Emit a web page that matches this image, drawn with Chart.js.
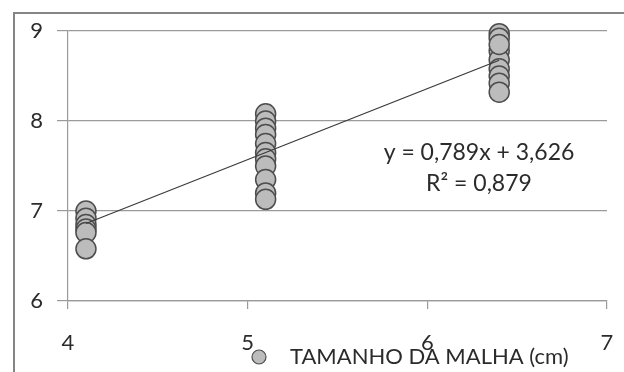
<!DOCTYPE html>
<html>
<head>
<meta charset="utf-8">
<script src="https://cdn.jsdelivr.net/npm/chart.js@4/dist/chart.umd.min.js"></script>
<style>
  html, body { margin: 0; padding: 0; background: #fff; }
  #wrap { position: relative; width: 624px; height: 372px; }
</style>
</head>
<body>
<div id="wrap"><canvas id="c" width="624" height="372"></canvas></div>
<script>
// Mesh size (cm) of each group of samples
const meshSizes = [4.1, 5.1, 6.4];
// Measured values for each mesh size
const group41 = [7.00, 6.92, 6.85, 6.80, 6.76, 6.58];
const group51 = [8.08, 8.00, 7.92, 7.85, 7.75, 7.65, 7.58, 7.50, 7.35, 7.20, 7.13];
const group64 = [8.97, 8.92, 8.78, 8.68, 8.58, 8.50, 8.42, 8.32, 8.85];
// Linear trend (y = a·x + b) and fit quality
const trendSlope = 0.789;
const trendIntercept = 3.626;
const trendR2 = 0.879;
// Axis ticks
const xTicks = [4, 5, 6, 7];
const yTicks = [6, 7, 8, 9];
const seriesLabel = 'TAMANHO DA MALHA (cm)';

const groups = [group41, group51, group64];
const scatterPoints = [];
groups.forEach((vals, i) => vals.forEach(v => scatterPoints.push({ x: meshSizes[i], y: v })));

const xFirst = meshSizes[0], xLast = meshSizes[meshSizes.length - 1];
const trendPoints = [xFirst, xLast].map(x => ({ x, y: trendSlope * x + trendIntercept }));

const fmt = (n, d) => n.toFixed(d).replace('.', ',');
const FONT = 'Lato, "Open Sans", sans-serif';
const TEXT = '#2b2b2b';

// Outer frame plus trend equation and custom legend
const extras = {
  id: 'extras',
  beforeDraw(chart) {
    const ctx = chart.ctx;
    ctx.save();
    ctx.fillStyle = '#fff';
    ctx.fillRect(0, 0, chart.width, chart.height);
    ctx.strokeStyle = '#858585';
    ctx.lineWidth = 2;
    ctx.strokeRect(14, 13, 900, 900);
    ctx.restore();
  },
  afterDraw(chart) {
    const ctx = chart.ctx;
    ctx.save();
    ctx.fillStyle = TEXT;
    ctx.font = '23px ' + FONT;
    ctx.textAlign = 'center';
    ctx.textBaseline = 'middle';
    ctx.fillText('y = ' + fmt(trendSlope, 3) + 'x + ' + fmt(trendIntercept, 3), 479, 153);
    ctx.fillText('R\u00B2 = ' + fmt(trendR2, 3), 479, 184);

    // legend entry
    const ds = chart.data.datasets[1];
    ctx.beginPath();
    ctx.arc(259, 357, 7, 0, Math.PI * 2);
    ctx.fillStyle = ds.backgroundColor;
    ctx.fill();
    ctx.lineWidth = 1.2;
    ctx.strokeStyle = ds.borderColor;
    ctx.stroke();
    ctx.fillStyle = TEXT;
    ctx.font = '22px ' + FONT;
    ctx.textAlign = 'left';
    ctx.fillText(ds.label, 290, 357);
    ctx.restore();
  }
};

new Chart(document.getElementById('c'), {
  type: 'scatter',
  data: {
    datasets: [
      {
        type: 'line',
        label: 'trend',
        data: trendPoints,
        borderColor: '#3a3a3a',
        borderWidth: 1.2,
        pointRadius: 0,
        fill: false,
        clip: false
      },
      {
        label: seriesLabel,
        data: scatterPoints,
        backgroundColor: '#bcbcbc',
        borderColor: '#4d4d4d',
        borderWidth: 1.5,
        pointRadius: 10,
        pointHoverRadius: 10,
        clip: false
      }
    ]
  },
  options: {
    responsive: false,
    animation: false,
    events: [],
    layout: { padding: { top: 31, right: 17, left: 0, bottom: 0 } },
    plugins: { legend: { display: false }, tooltip: { enabled: false } },
    scales: {
      x: {
        type: 'linear',
        min: xTicks[0],
        max: xTicks[xTicks.length - 1],
        afterBuildTicks: s => { s.ticks = xTicks.map(v => ({ value: v })); },
        afterFit: s => { s.height = 71; s.paddingLeft = 0; s.paddingRight = 0; },
        grid: { drawOnChartArea: false, drawTicks: true, tickLength: 8, color: '#9a9a9a', lineWidth: 1.2 },
        border: { display: true, color: '#9a9a9a', width: 1.2 },
        ticks: { color: TEXT, font: { family: FONT, size: 22 }, padding: 21, maxRotation: 0 }
      },
      y: {
        type: 'linear',
        min: yTicks[0],
        max: yTicks[yTicks.length - 1],
        afterBuildTicks: s => { s.ticks = yTicks.map(v => ({ value: v })); },
        afterFit: s => { s.width = 68; s.paddingTop = 0; s.paddingBottom = 0; },
        grid: { drawOnChartArea: true, drawTicks: true, tickLength: 11, color: '#9a9a9a', lineWidth: 1.2 },
        border: { display: true, color: '#9a9a9a', width: 1.2 },
        ticks: { color: TEXT, font: { family: FONT, size: 22 }, padding: 14 }
      }
    }
  },
  plugins: [extras]
});
</script>
</body>
</html>
